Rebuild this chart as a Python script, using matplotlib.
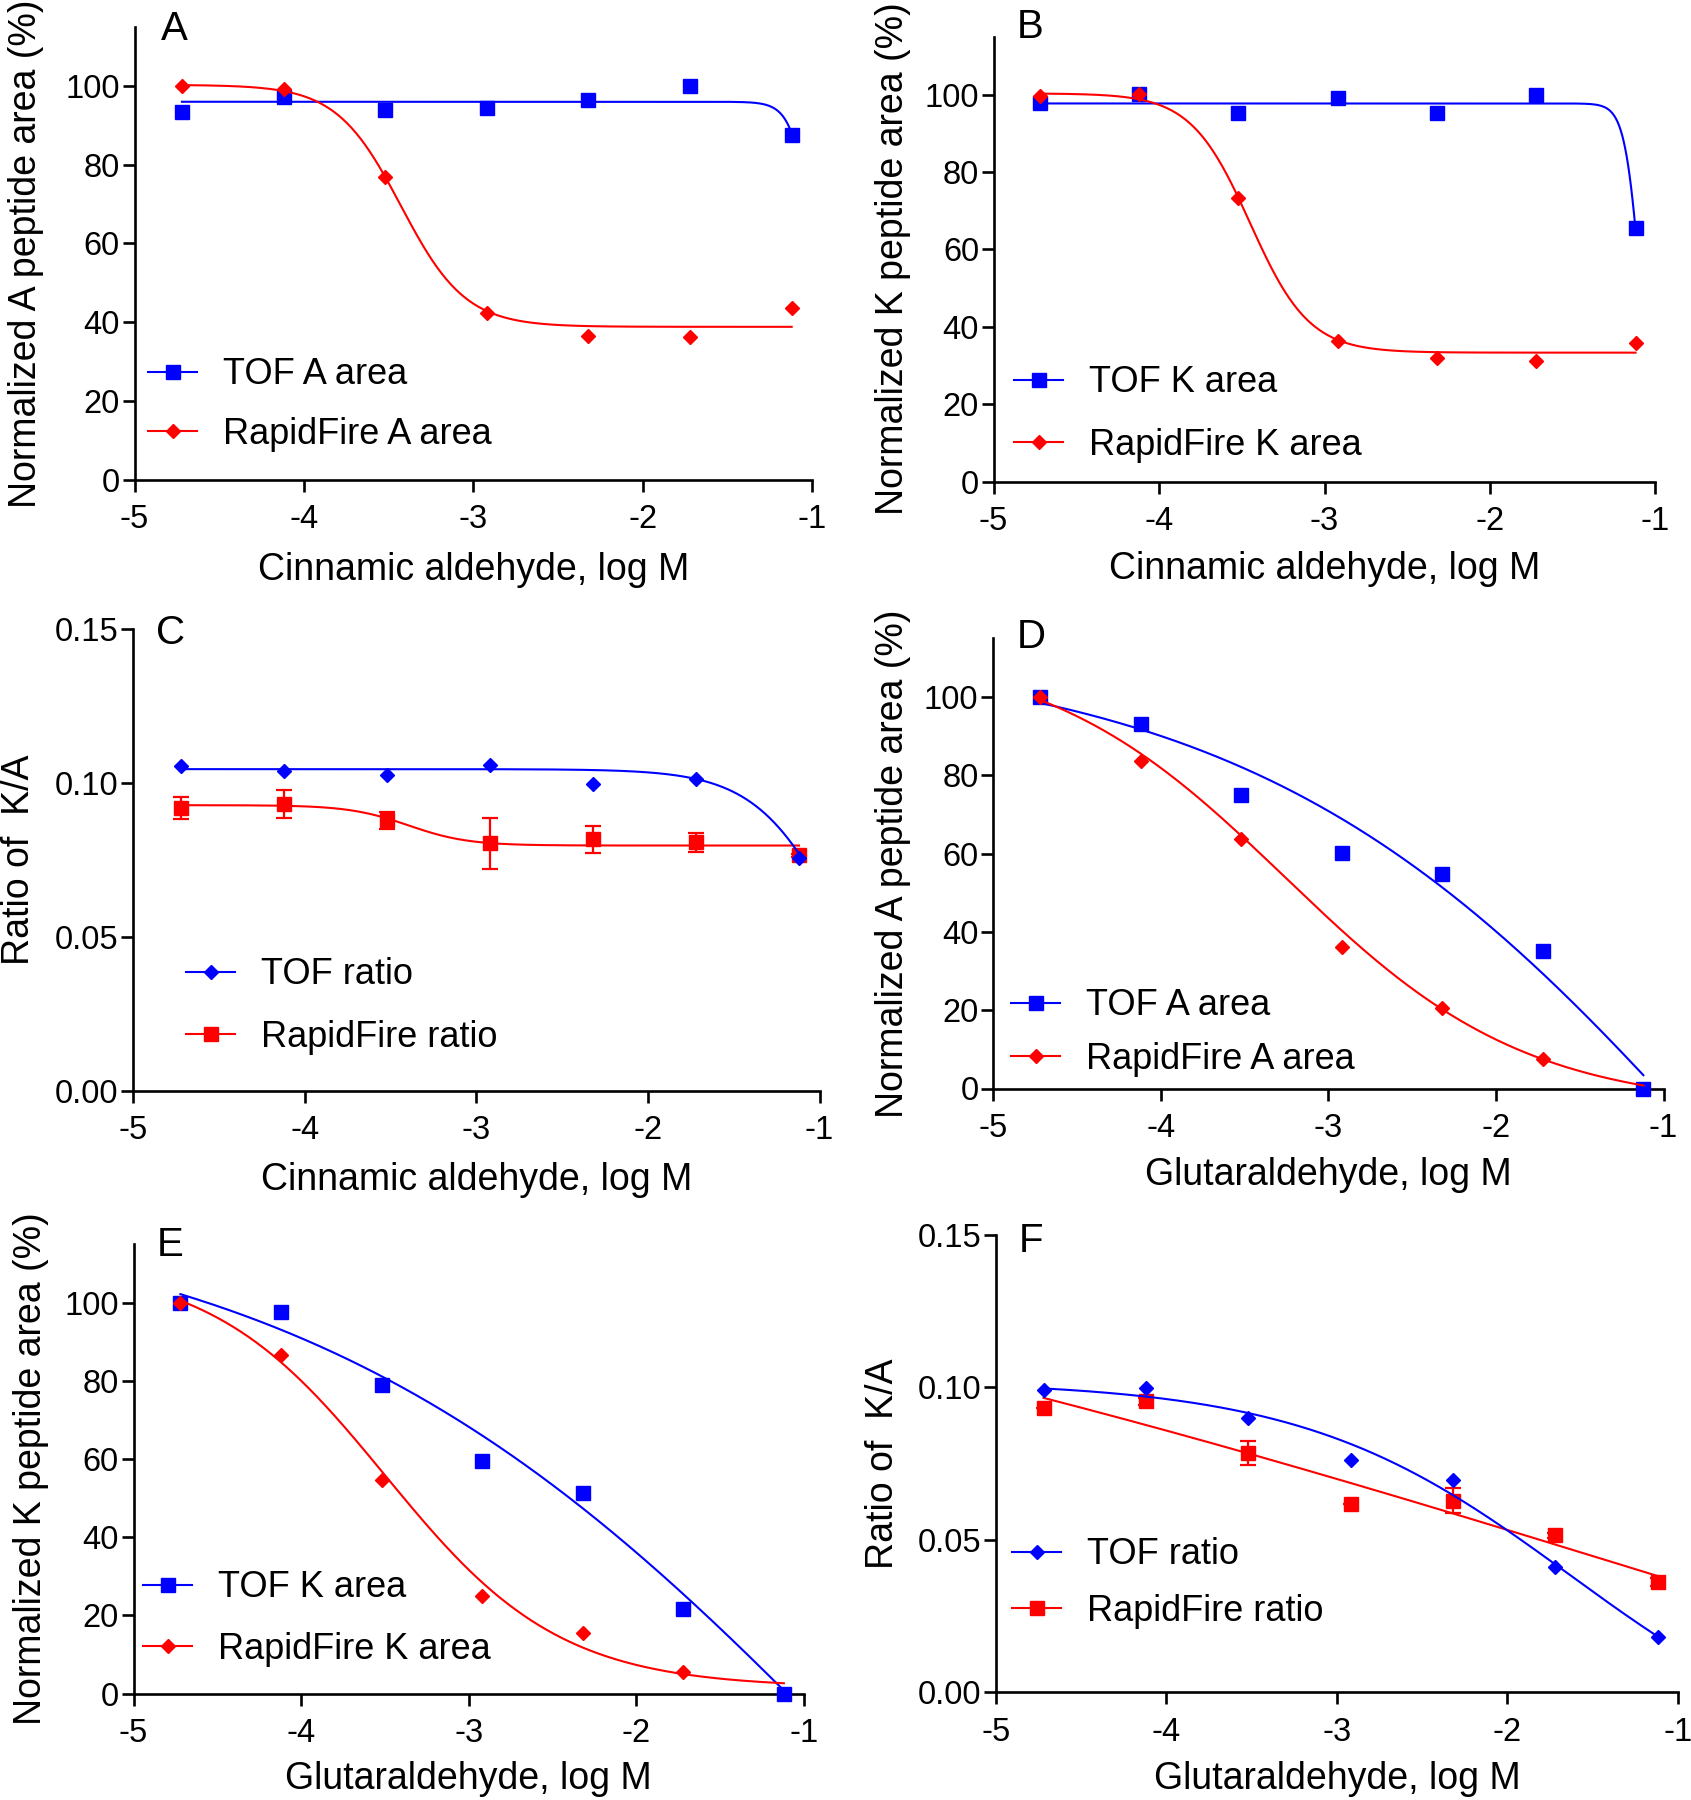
import numpy as np
import matplotlib
matplotlib.use("Agg")
import matplotlib.pyplot as plt
from matplotlib.lines import Line2D
from matplotlib.ticker import FormatStrFormatter, FixedLocator

plt.rcParams['font.family'] = ['Liberation Sans', 'DejaVu Sans']
plt.rcParams['axes.unicode_minus'] = False

# ---------------- data (log M concentrations) ----------------
log_conc = [-4.72, -4.12, -3.52, -2.92, -2.32, -1.72, -1.12]
x_ticks = [-5, -4, -3, -2, -1]
area_ticks = [0, 20, 40, 60, 80, 100]
ratio_ticks = [0.00, 0.05, 0.10, 0.15]

# Panel A: cinnamic aldehyde, A peptide area (%)
A_tof = [93.5, 97.3, 93.9, 94.3, 96.5, 100.0, 87.5]
A_rf = [100.0, 99.3, 76.9, 42.4, 36.5, 36.1, 43.6]
# Panel B: cinnamic aldehyde, K peptide area (%)
B_tof = [97.7, 100.2, 95.3, 99.0, 95.3, 100.0, 65.4]
B_rf = [99.6, 100.2, 73.3, 36.4, 31.8, 31.1, 35.9]
# Panel C: cinnamic aldehyde, K/A ratio
C_tof = [0.1055, 0.1040, 0.1026, 0.1057, 0.0996, 0.1012, 0.0755]
C_rf = [0.0920, 0.0932, 0.0879, 0.0804, 0.0817, 0.0807, 0.0765]
C_rf_err = [0.0036, 0.0046, 0.0028, 0.0082, 0.0044, 0.0030, 0.0005]
# Panel D: glutaraldehyde, A peptide area (%)
D_tof = [100.0, 93.1, 75.0, 60.3, 54.7, 35.1, 0.0]
D_rf = [100.0, 83.7, 63.8, 36.1, 20.6, 7.6, np.nan]
# Panel E: glutaraldehyde, K peptide area (%)
E_tof = [100.0, 97.7, 79.0, 59.5, 51.4, 21.5, 0.0]
E_rf = [100.0, 86.7, 54.6, 25.0, 15.6, 5.4, np.nan]
# Panel F: glutaraldehyde, K/A ratio
F_tof = [0.0991, 0.0998, 0.0900, 0.0761, 0.0697, 0.0410, 0.0180]
F_rf = [0.0933, 0.0954, 0.0784, 0.0618, 0.0628, 0.0514, 0.0362]
F_rf_err = [0.0, 0.0012, 0.0038, 0.0, 0.0042, 0.0008, 0.0012]

# Fitted 4-parameter logistic curves: (top, bottom, logIC50, hill)
A_tof_fit = (96.0, 0.0, -0.969, 6.9)
A_rf_fit = (100.3, 38.8, -3.427, 2.28)
B_tof_fit = (97.7, 0.0, -1.087, 9.1)
B_rf_fit = (100.3, 33.3, -3.45, 2.43)
C_tof_fit = (0.1045, 0.0, -0.865, 1.755)
C_rf_fit = (0.0928, 0.0797, -3.396, 2.5)
D_tof_fit = (112.8, -164.5, -0.5, 0.3)
D_rf_fit = (113.0, -5.0, -3.258, 0.603)
E_tof_fit = (127.0, -179.6, -0.5, 0.25)
E_rf_fit = (110.0, 1.5, -3.498, 0.833)
F_tof_fit = (0.102, -0.025, -1.635, 0.555)
F_rf_fit = (0.1857, -0.1136, -1.0, 0.1)


def four_pl(x, top, bottom, logic50, hill):
    x = np.asarray(x, dtype=float)
    return bottom + (top - bottom) / (1.0 + 10.0 ** ((x - logic50) * hill))


# ---------------- layout / style ----------------
W, H = 1691, 1800
fig = plt.figure(figsize=(W / 100, H / 100), dpi=100)

BLUE = '#0000FF'
RED = '#FF0000'
TICK_FS = 23.5
LABEL_FS = 27
LEG_FS = 26
LETTER_FS = 29
SPINE_LW = 1.9
CURVE_LW = 1.5
SQ = dict(marker='s', ms=10)
DM = dict(marker='D', ms=7.5)

cinn = 'Cinnamic aldehyde, log M'
glut = 'Glutaraldehyde, log M'

panels = [
    dict(letter='A', rect=(134.5, 812, 27, 479.5), letter_xy=(174, 40.4),
         ylabel='Normalized A peptide area (%)', xlabel=cinn, ylim=115, ratio=False,
         ylab_off=90, xlab_top=552,
         series=[('TOF A area', log_conc, A_tof, None, A_tof_fit, BLUE, SQ, 3),
                 ('RapidFire A area', log_conc, A_rf, None, A_rf_fit, RED, DM, 4)],
         leg=(148, 371, 429)),
    dict(letter='B', rect=(993.6, 1655.4, 36.5, 481.5), letter_xy=(1030, 38.5),
         ylabel='Normalized K peptide area (%)', xlabel=cinn, ylim=115, ratio=False,
         ylab_off=83, xlab_top=551,
         series=[('TOF K area', log_conc, B_tof, None, B_tof_fit, BLUE, SQ, 3),
                 ('RapidFire K area', log_conc, B_rf, None, B_rf_fit, RED, DM, 4)],
         leg=(1014, 379, 440)),
    dict(letter='C', rect=(133, 819.6, 629, 1091), letter_xy=(171, 644),
         ylabel='Ratio of  K/A', xlabel=cinn, ylim=0.15, ratio=True,
         ylab_off=96, xlab_top=1162,
         series=[('TOF ratio', log_conc, C_tof, None, C_tof_fit, BLUE, DM, 4),
                 ('RapidFire ratio', log_conc, C_rf, C_rf_err, C_rf_fit, RED, SQ, 3)],
         leg=(186, 971, 1032)),
    dict(letter='D', rect=(993, 1663.5, 638.5, 1088.5), letter_xy=(1031, 648),
         ylabel='Normalized A peptide area (%)', xlabel=glut, ylim=115, ratio=False,
         ylab_off=82, xlab_top=1157,
         series=[('TOF A area', log_conc, D_tof, None, D_tof_fit, BLUE, SQ, 3),
                 ('RapidFire A area', log_conc, D_rf, None, D_rf_fit, RED, DM, 4)],
         leg=(1011, 1002, 1054)),
    dict(letter='E', rect=(133.5, 804, 1244, 1693.5), letter_xy=(170, 1256),
         ylabel='Normalized K peptide area (%)', xlabel=glut, ylim=115, ratio=False,
         ylab_off=84, xlab_top=1761,
         series=[('TOF K area', log_conc, E_tof, None, E_tof_fit, BLUE, SQ, 3),
                 ('RapidFire K area', log_conc, E_rf, None, E_rf_fit, RED, DM, 4)],
         leg=(143, 1584, 1644)),
    dict(letter='F', rect=(995.8, 1678, 1234.6, 1692.3), letter_xy=(1031, 1252),
         ylabel='Ratio of  K/A', xlabel=glut, ylim=0.15, ratio=True,
         ylab_off=95, xlab_top=1761,
         series=[('TOF ratio', log_conc, F_tof, None, F_tof_fit, BLUE, DM, 4),
                 ('RapidFire ratio', log_conc, F_rf, F_rf_err, F_rf_fit, RED, SQ, 3)],
         leg=(1012, 1551, 1606)),
]

fs_px = LEG_FS * 100 / 72.0

for p in panels:
    left, right, top, bottom = p['rect']
    ax = fig.add_axes([left / W, 1 - bottom / H, (right - left) / W, (bottom - top) / H])
    for s in ('top', 'right'):
        ax.spines[s].set_visible(False)
    for s in ('left', 'bottom'):
        ax.spines[s].set_linewidth(SPINE_LW)
    ax.set_xlim(-5, -1)
    ax.set_ylim(0, p['ylim'])
    ax.xaxis.set_major_locator(FixedLocator(x_ticks))
    if p['ratio']:
        ax.yaxis.set_major_locator(FixedLocator(ratio_ticks))
        ax.yaxis.set_major_formatter(FormatStrFormatter('%.2f'))
    else:
        ax.yaxis.set_major_locator(FixedLocator(area_ticks))
        ax.yaxis.set_major_formatter(FormatStrFormatter('%d'))
    ax.tick_params(axis='both', direction='out', length=8.5, width=SPINE_LW,
                   labelsize=TICK_FS, color='black')
    ax.tick_params(axis='x', pad=9)
    ax.tick_params(axis='y', pad=2)

    handles, labels = [], []
    for (lab, xs, ys, err, fit, col, mk, z) in p['series']:
        xx = np.linspace(min(xs), max(xs), 400)
        ax.plot(xx, four_pl(xx, *fit), color=col, lw=CURVE_LW, clip_on=False, zorder=z)
        if err is not None:
            ax.errorbar(xs, ys, yerr=err, fmt=mk['marker'], ms=mk['ms'], color=col,
                        mec=col, mfc=col, ecolor=col, elinewidth=1.6, capsize=6,
                        capthick=1.6, clip_on=False, zorder=z + 0.5)
        else:
            ax.plot(xs, ys, linestyle='none', color=col, mec=col, mfc=col,
                    clip_on=False, zorder=z + 0.5, **mk)
        handles.append(Line2D([], [], color=col, lw=CURVE_LW, mec=col, mfc=col, **mk))
        labels.append(lab)

    # legend placement
    lx, r1, r2 = p['leg']
    ls = (r2 - r1) / fs_px - 0.93
    top_px = r1 - 0.38 * fs_px
    ax.legend(handles, labels, loc='upper left',
              bbox_to_anchor=((lx - left) / (right - left), (bottom - top_px) / (bottom - top)),
              frameon=False, borderpad=0, borderaxespad=0, handlelength=1.36,
              handletextpad=0.72, labelspacing=ls, fontsize=LEG_FS, numpoints=1)

    ax.set_ylabel(p['ylabel'], fontsize=LABEL_FS)
    ax.yaxis.set_label_coords(-p['ylab_off'] / (right - left), 0.5)
    ax.set_xlabel(p['xlabel'], fontsize=LABEL_FS)
    ax.xaxis.set_label_coords(0.5, (bottom - p['xlab_top']) / (bottom - top))

    lxp, lyp = p['letter_xy']
    fig.text(lxp / W, 1 - lyp / H, p['letter'], fontsize=LETTER_FS,
             ha='center', va='baseline')

fig.savefig('out.png', dpi=100)
